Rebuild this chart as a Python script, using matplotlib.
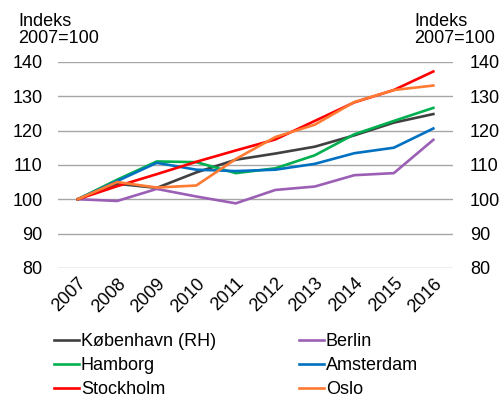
import matplotlib
matplotlib.use("Agg")
import matplotlib.pyplot as plt
import numpy as np

plt.rcParams['font.family'] = ['Liberation Sans', 'DejaVu Sans']

years = ["2007", "2008", "2009", "2010", "2011", "2012", "2013", "2014", "2015", "2016"]
kobenhavn = [100, 104.5, 103.3, 107.8, 111.5, 113.3, 115.3, 118.6, 122.3, 124.8]
berlin = [100, 99.5, 103.0, 100.8, 98.8, 102.7, 103.7, 107.0, 107.6, 117.3]
hamborg = [100, 105.7, 111.0, 110.8, 107.6, 109.0, 112.8, 118.9, 122.8, 126.6]
amsterdam = [100, 105.3, 110.6, 108.6, 108.2, 108.6, 110.3, 113.4, 115.0, 120.6]
stockholm = [100, 103.8, 107.3, 110.9, 114.2, 117.4, 122.8, 128.2, 131.8, 137.2]
oslo = [100, 105.0, 103.4, 104.0, 111.7, 118.1, 121.7, 128.3, 131.8, 133.1]
yticks = [80, 90, 100, 110, 120, 130, 140]

series = [
    ("København (RH)", kobenhavn, "#404040"),
    ("Berlin", berlin, "#9B5FB5"),
    ("Hamborg", hamborg, "#00B050"),
    ("Amsterdam", amsterdam, "#0070C0"),
    ("Stockholm", stockholm, "#FF0000"),
    ("Oslo", oslo, "#FF7A33"),
]

FS = 13

fig = plt.figure(figsize=(5.04, 3.94), dpi=100)
ax = fig.add_axes([0.115, 0.320, 0.784, 0.523])
x = np.arange(len(years))
lines = {}
for name, vals, col in series:
    l, = ax.plot(x, vals, color=col, lw=1.9, label=name, solid_joinstyle='miter')
    lines[name] = l

ax.set_xlim(-0.5, len(years) - 0.5)
ax.set_ylim(80, 140)
ax.set_yticks(yticks)
ax.set_xticks(x)
ax.set_xticklabels(years, rotation=45, ha='right', rotation_mode='anchor', fontsize=FS)
for s in ax.spines.values():
    s.set_visible(False)
ax.grid(axis='y', color='#A6A6A6', lw=1)
ax.set_axisbelow(True)
ax.tick_params(axis='both', length=0, labelsize=FS)
ax.tick_params(axis='x', pad=5)
ax.tick_params(axis='y', pad=11)

ax2 = ax.twinx()
ax2.set_ylim(80, 140)
ax2.set_yticks(yticks)
for s in ax2.spines.values():
    s.set_visible(False)
ax2.tick_params(axis='y', length=0, labelsize=FS, pad=12)

fig.text(0.036, 0.968, "Indeks\n2007=100", fontsize=FS, va='top', ha='left', linespacing=1.0)
fig.text(0.982, 0.968, "Indeks\n2007=100", fontsize=FS, va='top', ha='right',
         multialignment='left', linespacing=1.0)

order = ["København (RH)", "Hamborg", "Stockholm", "Berlin", "Amsterdam", "Oslo"]
fig.legend(handles=[lines[n] for n in order], loc='upper left', bbox_to_anchor=(0.108, 0.155), ncol=2,
           frameon=False, fontsize=FS, handlelength=1.35, handletextpad=0.12,
           columnspacing=4.6, labelspacing=0.4, borderaxespad=0, borderpad=0)

fig.savefig("out.png", dpi=100)
